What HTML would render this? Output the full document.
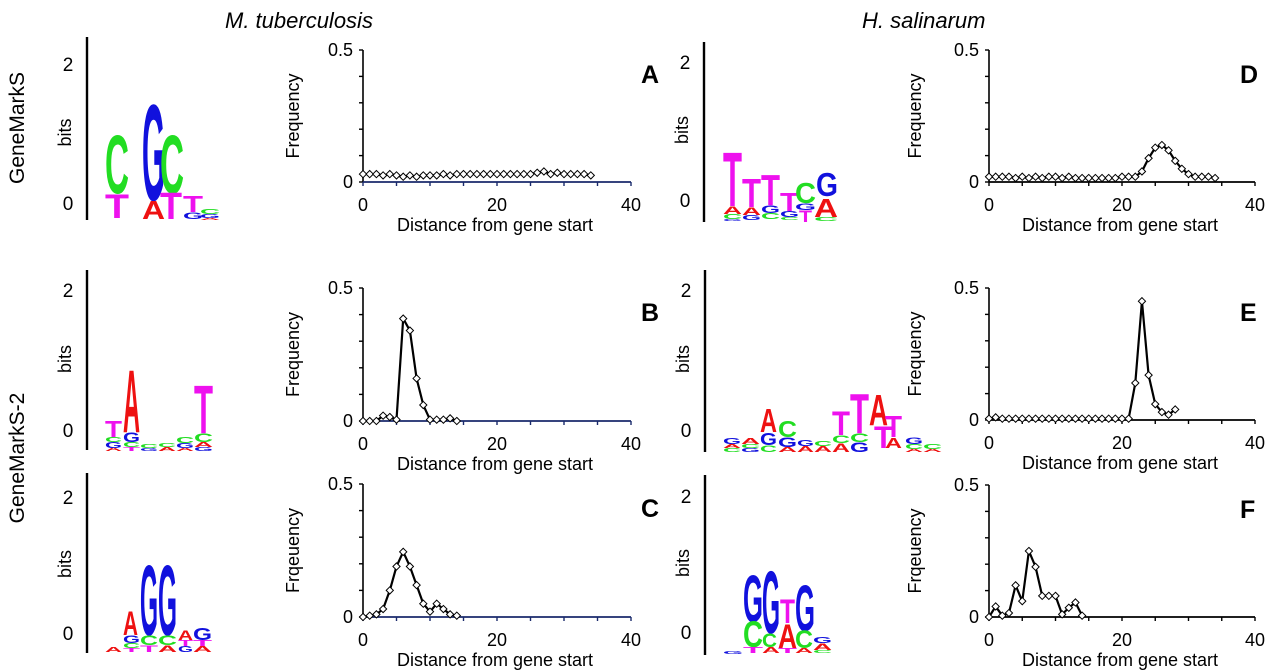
<!DOCTYPE html>
<html><head><meta charset="utf-8"><style>
html,body{margin:0;padding:0;background:#fff;}
svg{display:block;font-family:"Liberation Sans",Arial,sans-serif;}
</style></head><body>
<svg id="fig" width="1280" height="671" viewBox="0 0 1280 671">
<g>
<text x="225" y="28" font-size="22" font-style="italic">M. tuberculosis</text>
<text x="862" y="28" font-size="22" font-style="italic">H. salinarum</text>
</g>
<text transform="translate(24,128) rotate(-90)" font-size="21" text-anchor="middle">GeneMarkS</text>
<text transform="translate(24,458) rotate(-90)" font-size="21" text-anchor="middle">GeneMarkS-2</text>
<g id="logos"></g>
<g id="charts"></g>
</svg>
<script>
// ===== chart data =====
const xTicks = [0, 20, 40];
const yTickLabels = ["0", "0.5"];
const xA = [0,1,2,3,4,5,6,7,8,9,10,11,12,13,14,15,16,17,18,19,20,21,22,23,24,25,26,27,28,29,30,31,32,33,34];
const yA = [0.03,0.03,0.03,0.025,0.03,0.025,0.02,0.025,0.02,0.025,0.025,0.025,0.03,0.025,0.03,0.03,0.03,0.03,0.03,0.03,0.03,0.03,0.03,0.03,0.03,0.03,0.035,0.04,0.03,0.035,0.03,0.03,0.03,0.03,0.025];
const xB = [0,1,2,3,4,5,6,7,8,9,10,11,12,13,14];
const yB = [0,0,0,0.02,0.015,0.005,0.385,0.34,0.16,0.06,0.005,0.005,0.005,0.01,0.0];
const xC = [0,1,2,3,4,5,6,7,8,9,10,11,12,13,14];
const yC = [0,0.005,0.01,0.03,0.1,0.19,0.245,0.19,0.12,0.05,0.02,0.05,0.03,0.01,0.005];
const xD = [0,1,2,3,4,5,6,7,8,9,10,11,12,13,14,15,16,17,18,19,20,21,22,23,24,25,26,27,28,29,30,31,32,33,34];
const yD = [0.02,0.02,0.02,0.02,0.015,0.02,0.015,0.02,0.015,0.02,0.02,0.015,0.02,0.015,0.015,0.015,0.015,0.015,0.015,0.015,0.02,0.02,0.02,0.04,0.09,0.13,0.14,0.12,0.08,0.05,0.03,0.02,0.02,0.02,0.015];
const xE = [0,1,2,3,4,5,6,7,8,9,10,11,12,13,14,15,16,17,18,19,20,21,22,23,24,25,26,27,28];
const yE = [0.005,0.01,0.005,0.005,0.005,0.005,0.005,0.005,0.005,0.005,0.005,0.005,0.005,0.005,0.005,0.005,0.005,0.005,0.005,0.005,0.005,0.005,0.14,0.45,0.17,0.06,0.03,0.02,0.04];
const xF = [0,1,2,3,4,5,6,7,8,9,10,11,12,13,14];
const yF = [0,0.04,0.005,0.015,0.12,0.06,0.25,0.19,0.08,0.08,0.08,0.01,0.035,0.055,0.005];

const NS = "http://www.w3.org/2000/svg";
function mk(tag, attrs, parent){const e=document.createElementNS(NS,tag);for(const k in attrs)e.setAttribute(k,attrs[k]);parent.appendChild(e);return e;}

const charts = document.getElementById('charts');
function chart(id, L, R, y0, y5, axisColor, ylabel, letter, letterX, ylabX, xs, ys){
  const g = mk('g',{},charts);
  
  
  const sx = v => L + (v - 0) / 40 * (R - L);
  const sy = v => y0 - v / 0.5 * (y0 - y5);
  const ya = mk('line',{x1:L,y1:y5,x2:L,y2:y0,stroke:'#000','stroke-width':1.6},g);
  
  
  for(let i=0;i<=5;i++){const yy=sy(i*0.1);mk('line',{x1:L-4,y1:yy,x2:L,y2:yy,stroke:'#000','stroke-width':1.4},g);}
  const xa = mk('line',{x1:L,y1:y0,x2:R,y2:y0,stroke:axisColor,'stroke-width':1.8},g);
  
  
  for(let i=0;i<=8;i++){const xx=sx(i*5);mk('line',{x1:xx,y1:y0,x2:xx,y2:y0+4,stroke:axisColor,'stroke-width':1.4},g);}
  xTicks.forEach(t=>{const tx=mk('text',{x:sx(t),y:y0+29,'font-size':18,'text-anchor':'middle'},g);tx.textContent=t;
    
    });
  yTickLabels.forEach((t,i)=>{const ty=mk('text',{x:L-10,y:(i?y5:y0)+6,'font-size':18,'text-anchor':'end'},g);ty.textContent=t;
    
    });
  const xt = mk('text',{x:(L+R)/2-2,y:y0+49,'font-size':18,'text-anchor':'middle'},g);xt.textContent='Distance from gene start';
  
  
  const yt = mk('text',{transform:`translate(${ylabX},${(y0+y5)/2}) rotate(-90)`,'font-size':18,'text-anchor':'middle'},g);yt.textContent=ylabel;
  
  
  const pl = mk('text',{x:letterX,y:y5+33,'font-size':25,'font-weight':'bold'},g);pl.textContent=letter;
  
  
  const pts = xs.map((x,i)=>sx(x)+','+sy(ys[i])).join(' ');
  const line = mk('polyline',{points:pts,fill:'none',stroke:'#000','stroke-width':2.2,'stroke-linejoin':'round'},g);
  
  
  xs.forEach((x,i)=>{const cx=sx(x),cy=sy(ys[i]);
    const d=mk('polygon',{points:`${cx},${cy-3.6} ${cx+3.6},${cy} ${cx},${cy+3.6} ${cx-3.6},${cy}`,fill:'#fff',stroke:'#000','stroke-width':1},g);
    
    });
}
chart('a',363,631,182,50,'#1a2a6c','Frequency','A',641,299,xA,yA);
chart('b',363,631,421,288,'#1a2a6c','Frequency','B',641,299,xB,yB);
chart('c',363,631,617,484,'#1a2a6c','Frqeuency','C',641,299,xC,yC);
chart('d',989,1255,182,50,'#000','Frequency','D',1240,921,xD,yD);
chart('e',989,1255,420,288,'#000','Frequency','E',1240,921,xE,yE);
chart('f',989,1255,617,485,'#000','Frqeuency','F',1240,921,xF,yF);

// ===== sequence logos =====
const logos = document.getElementById('logos');
const COL = {A:'#ee1111',C:'#22dd22',G:'#1111dd',T:'#ee11ee'};
function logoAxis(name, x, top, bottom, y2, y0){
  const g = mk('g',{},logos);
  
  
  mk('line',{x1:x,y1:top,x2:x,y2:bottom,stroke:'#000','stroke-width':2.4},g);
  const a=mk('text',{x:x-19,y:y2+7,'font-size':19,'text-anchor':'middle'},g);a.textContent='2';
  const b=mk('text',{x:x-19,y:y0+7,'font-size':19,'text-anchor':'middle'},g);b.textContent='0';
  const c=mk('text',{transform:`translate(${x-16},${(y2+y0)/2-1}) rotate(-90)`,'font-size':18,'text-anchor':'middle'},g);c.textContent='bits';
  return g;
}
function L(g, ch, x1, x2, top, bot){
  const h = bot - top, w = x2 - x1;
  const t = mk('text',{transform:`translate(${x1},${bot}) scale(1,${(h/72.9).toFixed(4)})`,'font-size':100,'font-weight':'bold',fill:COL[ch],textLength:w,lengthAdjust:'spacingAndGlyphs'},g);
  t.textContent = ch;
}
let g;
g = logoAxis('logo-a',87,37,220,64,203);
L(g,'C',105,129,132,193);L(g,'T',105,129,193,218);
L(g,'G',142,165,100,200);L(g,'A',142,165,200,219);
L(g,'C',160,184,132,193);L(g,'T',160,182,191,219);
L(g,'T',183,203,195,212);L(g,'G',183,203,212,219);
L(g,'C',200,220,209,214);L(g,'G',200,220,214,218);L(g,'A',200,220,218,220);
g = logoAxis('logo-b',87,270,450,290,430);
L(g,'T',105,122,420,437);L(g,'C',105,122,437,442);L(g,'G',105,122,442,448);L(g,'A',105,122,448,451);
L(g,'A',123,140,367,432);L(g,'G',123,140,432,442);L(g,'C',123,140,442,447);L(g,'T',123,140,447,451);
L(g,'C',140,158,444,448);L(g,'G',140,158,448,451);
L(g,'C',158,176,443,447);L(g,'A',158,176,447,451);
L(g,'C',176,194,437,443);L(g,'G',176,194,443,448);L(g,'A',176,194,448,451);
L(g,'T',194,213,383,433);L(g,'C',194,213,433,442);L(g,'A',194,213,442,447);L(g,'G',194,213,447,451);
g = logoAxis('logo-c',87,473,653,497,633);
L(g,'A',105,122,647,652);
L(g,'A',123,138,610,635);L(g,'G',123,140,635,643);L(g,'C',123,140,643,648);L(g,'T',123,140,648,652);
L(g,'G',140,158,562,635);L(g,'C',140,158,635,645);L(g,'T',140,158,645,652);
L(g,'G',158,177,562,635);L(g,'C',158,177,635,645);L(g,'A',158,177,645,652);
L(g,'A',178,193,630,640);L(g,'T',178,193,640,646);L(g,'G',178,193,646,652);
L(g,'G',193,212,627,640);L(g,'T',193,212,640,646);L(g,'A',193,212,646,652);
g = logoAxis('logo-d',704,42,222,62,200);
L(g,'T',723,742,150,206);L(g,'A',723,742,206,214);L(g,'C',723,742,214,219);L(g,'G',723,742,219,221);
L(g,'T',742,761,177,207);L(g,'A',742,761,207,215);L(g,'G',742,761,215,220);
L(g,'T',761,780,173,205);L(g,'G',761,780,205,213);L(g,'C',761,780,213,219);
L(g,'T',780,799,192,211);L(g,'G',780,799,211,217);L(g,'C',780,799,217,220);
L(g,'C',795,816,182,203);L(g,'G',795,816,203,210);L(g,'T',799,812,210,222);
L(g,'G',816,838,172,196);L(g,'A',814,838,198,217);L(g,'C',814,838,217,221);
g = logoAxis('logo-e',705,270,452,290,430);
L(g,'G',723,741,438,444);L(g,'A',723,741,444,448);L(g,'C',723,741,448,452);
L(g,'A',741,760,438,444);L(g,'C',741,760,444,448);L(g,'G',741,760,448,452);
L(g,'A',760,777,408,432);L(g,'G',760,777,432,445);L(g,'C',760,777,445,452);
L(g,'C',778,797,420,437);L(g,'G',778,797,437,447);L(g,'A',778,797,447,452);
L(g,'G',797,814,440,446);L(g,'A',797,814,446,452);
L(g,'C',814,832,441,446);L(g,'A',814,832,446,452);
L(g,'T',832,850,410,435);L(g,'C',832,850,435,443);L(g,'A',832,850,443,452);
L(g,'T',850,869,392,433);L(g,'C',850,869,433,442);L(g,'G',850,869,442,452);
L(g,'A',869,888,393,425);L(g,'T',874,893,425,448);
L(g,'T',885,902,415,437);L(g,'A',885,902,437,448);
L(g,'G',905,923,437,444);L(g,'C',905,923,444,449);L(g,'A',905,923,449,452);
L(g,'C',923,942,444,449);L(g,'A',923,942,449,452);
g = logoAxis('logo-f',705,475,655,496,632);
L(g,'G',723,743,651,654);
L(g,'G',743,763,573,622);L(g,'C',743,763,620,647);L(g,'T',743,763,647,653);
L(g,'G',762,780,568,633);L(g,'C',762,777,633,647);L(g,'A',762,780,647,653);
L(g,'T',780,795,598,623);L(g,'A',778,797,623,648);L(g,'T',778,797,648,653);
L(g,'G',795,815,583,631);L(g,'C',795,813,630,648);L(g,'A',795,813,648,653);
L(g,'G',813,832,637,643);L(g,'A',813,832,643,650);L(g,'C',813,832,650,653);
</script>
</body></html>
